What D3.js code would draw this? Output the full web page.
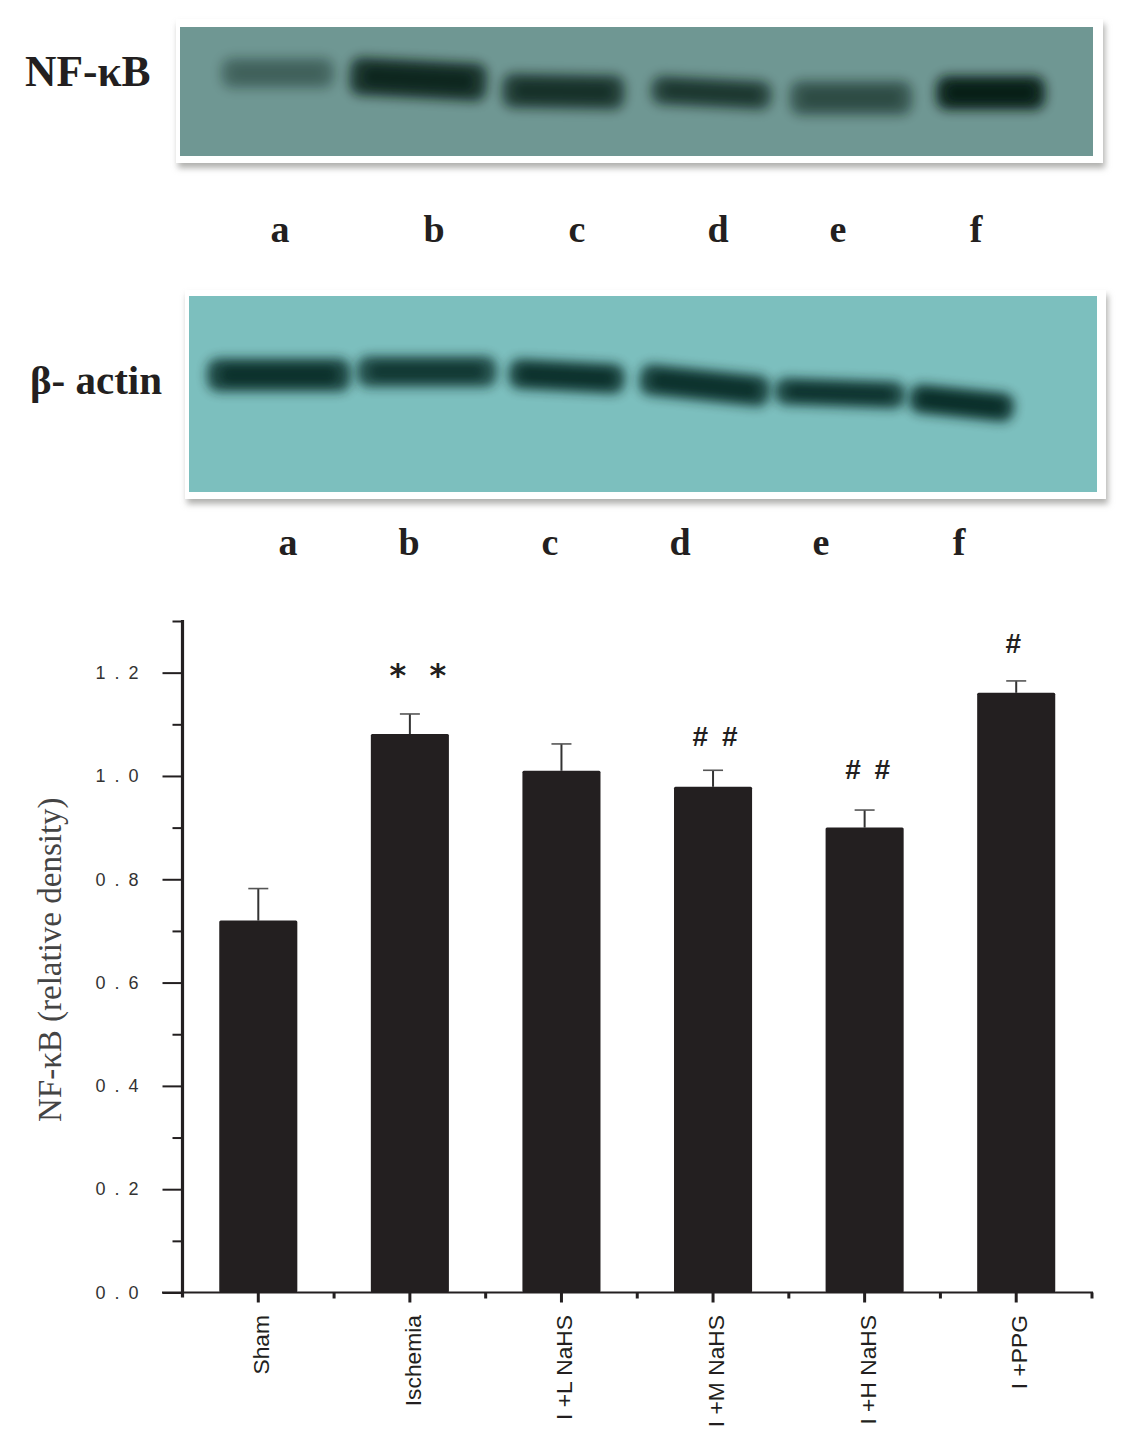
<!DOCTYPE html>
<html>
<head>
<meta charset="utf-8">
<script src="https://cdn.jsdelivr.net/npm/d3@7/dist/d3.min.js"></script>
<style>
html,body{margin:0;padding:0;background:#fff}
svg{display:block}
text{fill:#231f20}
</style>
</head>
<body>
<svg id="chart" width="1128" height="1448"></svg>
<script>
// ---- bar chart data ----
const categories = ["Sham","Ischemia","I +L NaHS","I +M NaHS","I +H NaHS","I +PPG"];
const densityMean = [0.72,1.081,1.01,0.979,0.90,1.161];
const densityErrTop = [0.782,1.12,1.062,1.011,0.934,1.184];
const sigLabels = ["","* *","","# #","# #","#"];
const sigLevel = [0,1.174,0,1.058,0.994,1.238];
const sigShift = [0,8,0,2,3,-3];
const yMajorTicks = [0,0.2,0.4,0.6,0.8,1.0,1.2];
const yMinorTicks = [0.1,0.3,0.5,0.7,0.9,1.1,1.3];
// ---- blot data (percent of gel width / height, tilt in degrees) ----
const laneLetters = ["a","b","c","d","e","f"];
const nfkbLane = [10.7,26.1,42,58.2,73.5,88.8];
const nfkbWidth = [12.4,15,13.4,13.2,13.4,12];
const nfkbMigration = [35.7,40.5,50,51,55,51];
const nfkbThick = [24,30,27,23,27,27];
const nfkbDensity = [0.42,0.9,0.8,0.74,0.58,1];
const nfkbTilt = [0,3,1,3,0,0];
const actinLane = [9.9,26.2,41.6,56.8,71.7,85.1];
const actinWidth = [15.8,15.4,12.8,14.4,14.4,11.6];
const actinMigration = [40.3,38.6,41,45.6,49.6,54.6];
const actinThick = [17,16,15.5,16,14,15];
const actinDensity = [0.95,0.88,0.95,0.95,0.92,0.98];
const actinTilt = [0,0,3,6,2,6];

const svg = d3.select("#chart");
const defs = svg.append("defs");
const blur = (id,s)=>defs.append("filter").attr("id",id)
  .attr("x","-30%").attr("y","-80%").attr("width","160%").attr("height","260%")
  .append("feGaussianBlur").attr("stdDeviation",s);
blur("bandBlur",5.5); blur("coreBlur",4); blur("shadowBlur",3);

function gel(cfg){
  const g = svg.append("g");
  const F = cfg.frame, R = cfg.rect;
  g.append("rect").attr("x",F[0]+2).attr("y",F[1]+5).attr("width",F[2]-F[0]).attr("height",F[3]-F[1])
    .attr("fill","#b0b0ae").attr("filter","url(#shadowBlur)");
  g.append("rect").attr("x",F[0]).attr("y",F[1]).attr("width",F[2]-F[0]).attr("height",F[3]-F[1]).attr("fill","#fff");
  g.append("rect").attr("x",R[0]).attr("y",R[1]).attr("width",R[2]-R[0]).attr("height",R[3]-R[1]).attr("fill",cfg.bg);
  const lx = d3.scaleLinear().domain([0,100]).range([R[0],R[2]]);
  const ly = d3.scaleLinear().domain([0,100]).range([R[1],R[3]]);
  const h = d3.scaleLinear().domain([0,100]).range([0,R[3]-R[1]]);
  const w = d3.scaleLinear().domain([0,100]).range([0,R[2]-R[0]]);
  const clip = "clip"+cfg.id;
  defs.append("clipPath").attr("id",clip).append("rect").attr("x",R[0]).attr("y",R[1]).attr("width",R[2]-R[0]).attr("height",R[3]-R[1]);
  const bands = g.append("g").attr("clip-path",`url(#${clip})`).selectAll("g").data(cfg.lane).join("g")
    .attr("transform",(d,i)=>`translate(${lx(d)},${ly(cfg.mig[i])}) rotate(${cfg.tilt[i]})`);
  bands.append("rect")
    .attr("x",(d,i)=>-w(cfg.width[i])/2).attr("width",(d,i)=>w(cfg.width[i]))
    .attr("y",(d,i)=>-h(cfg.thick[i])/2).attr("height",(d,i)=>h(cfg.thick[i]))
    .attr("rx",12).attr("fill",cfg.ink).attr("opacity",(d,i)=>cfg.dens[i]*0.8).attr("filter","url(#bandBlur)");
  bands.append("rect")
    .attr("x",(d,i)=>-w(cfg.width[i])*0.4).attr("width",(d,i)=>w(cfg.width[i])*0.8)
    .attr("y",(d,i)=>-h(cfg.thick[i])*0.25).attr("height",(d,i)=>h(cfg.thick[i])*0.5)
    .attr("rx",8).attr("fill",cfg.ink).attr("opacity",(d,i)=>cfg.dens[i]*cfg.dens[i]*0.65).attr("filter","url(#coreBlur)");
  g.selectAll("text.lane").data(laneLetters).join("text").attr("class","lane")
    .attr("x",(d,i)=>cfg.letterX[i]).attr("y",cfg.letterY).attr("text-anchor","middle")
    .attr("font-family","'Liberation Serif',serif").attr("font-weight","bold").attr("font-size",38).text(d=>d);
  g.append("text").attr("x",cfg.titleX).attr("y",cfg.titleY)
    .attr("font-family","'Liberation Serif',serif").attr("font-weight","bold").attr("font-size",cfg.titleSize).text(cfg.title);
}
gel({id:"a",frame:[176,19,1103,163],rect:[180,27,1093,156],bg:"#6f9793",ink:"#04120f",
  lane:nfkbLane,width:nfkbWidth,mig:nfkbMigration,thick:nfkbThick,dens:nfkbDensity,tilt:nfkbTilt,
  letterX:[280,434,577,718,838,976],letterY:242,title:"NF-κB",titleX:25,titleY:86,titleSize:43.5});
gel({id:"b",frame:[185,290,1106,499],rect:[189,296,1097,492],bg:"#7cbfbe",ink:"#04201f",
  lane:actinLane,width:actinWidth,mig:actinMigration,thick:actinThick,dens:actinDensity,tilt:actinTilt,
  letterX:[288,409,550,680,821,959],letterY:555,title:"β- actin",titleX:30,titleY:394,titleSize:41});

// ---- bar chart ----
const x = d3.scaleBand().domain(categories).range([182.5,1092]).paddingInner(0.485).paddingOuter(0.2425);
const y = d3.scaleLinear().domain([0,1.3]).range([1292.5,621]);
const ink = "#231f20";

const bars = svg.append("g");
// error bars
bars.selectAll("line.err").data(categories).join("line").attr("class","err")
  .attr("x1",d=>x(d)+x.bandwidth()/2).attr("x2",d=>x(d)+x.bandwidth()/2)
  .attr("y1",(d,i)=>y(densityMean[i])).attr("y2",(d,i)=>y(densityErrTop[i]))
  .attr("stroke","#333").attr("stroke-width",2);
bars.selectAll("line.cap").data(categories).join("line").attr("class","cap")
  .attr("x1",d=>x(d)+x.bandwidth()/2-10).attr("x2",d=>x(d)+x.bandwidth()/2+10)
  .attr("y1",(d,i)=>y(densityErrTop[i])).attr("y2",(d,i)=>y(densityErrTop[i]))
  .attr("stroke","#555").attr("stroke-width",1.6);
bars.selectAll("rect").data(categories).join("rect")
  .attr("x",d=>x(d)).attr("width",x.bandwidth())
  .attr("y",(d,i)=>y(densityMean[i])).attr("height",(d,i)=>y(0)-y(densityMean[i]))
  .attr("rx",1.5).attr("fill",ink);

// y axis
const yAxis = svg.append("g").attr("transform","translate(182.5,0)")
  .call(d3.axisLeft(y).tickValues(yMajorTicks).tickFormat(d3.format(".1f")).tickSize(20).tickPadding(15));
yAxis.select(".domain").remove();
yAxis.selectAll(".tick line").attr("stroke",ink).attr("stroke-width",2);
yAxis.selectAll(".tick text").attr("font-family","'Liberation Sans',Arial,sans-serif").attr("font-size",18)
  .style("letter-spacing","9px").style("fill","#333");
const yMinor = svg.append("g").attr("transform","translate(182.5,0)")
  .call(d3.axisLeft(y).tickValues(yMinorTicks).tickFormat("").tickSize(10));
yMinor.select(".domain").remove();
yMinor.selectAll(".tick line").attr("stroke",ink).attr("stroke-width",2);
svg.append("line").attr("x1",182.5).attr("x2",182.5).attr("y1",y(1.3)-1).attr("y2",y(0)+5)
  .attr("stroke",ink).attr("stroke-width",3.2);

// x axis
const xAxis = svg.append("g").attr("transform",`translate(0,${y(0)})`)
  .call(d3.axisBottom(x).tickSize(10).tickFormat(""));
xAxis.select(".domain").remove();
xAxis.selectAll(".tick line").attr("stroke",ink).attr("stroke-width",3);
svg.append("line").attr("x1",162).attr("x2",1093).attr("y1",y(0)).attr("y2",y(0)).attr("stroke",ink).attr("stroke-width",2);
const midpoints = d3.range(1,7).map(i=>x(categories[0])+x.bandwidth()/2+x.step()*(i-0.5));
svg.selectAll("line.xminor").data(midpoints).join("line").attr("class","xminor")
  .attr("x1",d=>d).attr("x2",d=>d).attr("y1",y(0)).attr("y2",y(0)+6).attr("stroke",ink).attr("stroke-width",3);

// category labels
svg.selectAll("text.cat").data(categories).join("text").attr("class","cat")
  .attr("transform",d=>`translate(${x(d)+x.bandwidth()/2+11},1315) rotate(-90)`)
  .attr("text-anchor","end").attr("font-family","'Liberation Sans',Arial,sans-serif")
  .attr("font-size",22.8).text(d=>d);

// significance marks
svg.selectAll("text.sig").data(categories).join("text").attr("class","sig")
  .attr("x",(d,i)=>x(d)+x.bandwidth()/2+sigShift[i]).attr("y",(d,i)=>y(sigLevel[i]))
  .attr("text-anchor","middle").attr("font-family",(d,i)=>sigLabels[i].includes("*")?"'DejaVu Sans',sans-serif":"'Liberation Sans',Arial,sans-serif")
  .attr("font-weight","bold")
  .attr("font-size",(d,i)=>sigLabels[i].includes("*")?32:28)
  .attr("word-spacing",(d,i)=>sigLabels[i].includes("*")?"12px":"6px")
  .text((d,i)=>sigLabels[i]);

// y title
svg.append("text").attr("transform","translate(61,1122) rotate(-90)")
  .attr("font-family","'Liberation Serif',serif").attr("font-size",33).style("fill","#444")
  .text("NF-κB (relative density)");
</script>
</body>
</html>
